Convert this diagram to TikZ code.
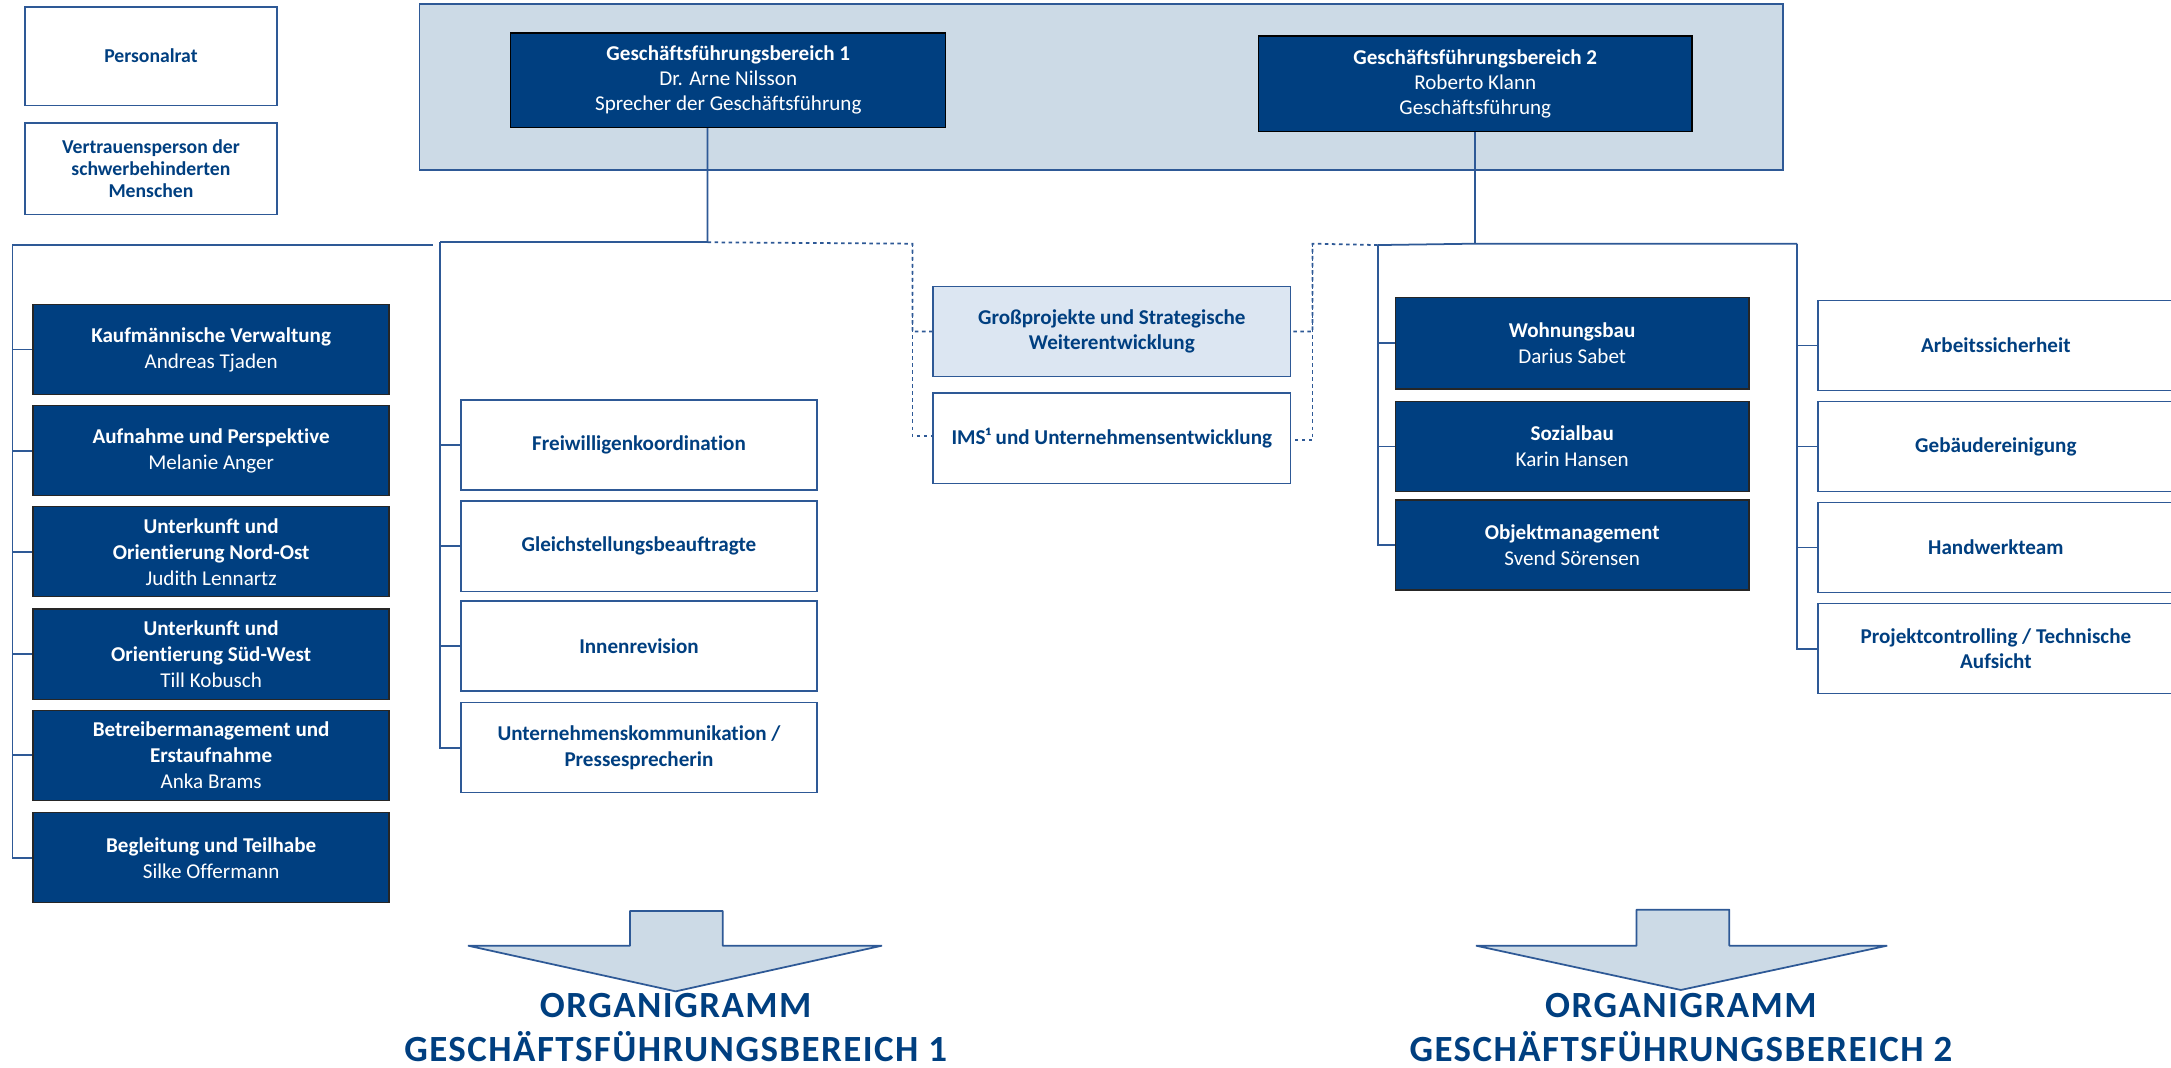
\documentclass[tikz,border=0pt]{standalone}
\usepackage{fontspec}
\setmainfont{Carlito}[Ligatures=NoCommon]
\newfontfamily\headfont[LetterSpace=4]{Carlito}
\definecolor{gfblue}{RGB}{0,63,128}
\definecolor{linecol}{RGB}{46,89,150}
\definecolor{bgblue}{RGB}{204,218,230}
\definecolor{lightbox}{RGB}{220,230,242}
\tikzset{
	darkbox/.style={draw=black!85,fill=gfblue,text=white,minimum width=3.558cm,minimum height=0.9cm,inner sep=0pt,align=center,font=\fontsize{6}{7.4}\selectfont},
	whitebox/.style={draw=linecol,fill=white,text=gfblue,minimum width=3.558cm,minimum height=0.9cm,inner sep=0pt,align=center,font=\fontsize{6}{7.2}\selectfont\bfseries},
	conn/.style={draw=linecol,line width=0.5pt},
	dotconn/.style={draw=linecol,line width=0.5pt,dash pattern=on 1pt off 1pt},
	arrowshape/.style={draw=linecol,fill=bgblue,line width=0.5pt,line join=bevel},
	headline/.style={text=gfblue,inner sep=0pt,align=center,font=\headfont\fontsize{10.5}{12.6}\selectfont\bfseries}
}
\begin{document}
\begin{tikzpicture}[x=0.013846cm,y=-0.013846cm]
		\useasboundingbox (0,0) rectangle (1568,771);
		\clip (0,0) rectangle (1568,771);
		% Gremien links oben
		\node[whitebox,minimum width=2.52cm,minimum height=0.983cm,font=\fontsize{5.6}{6.3}\selectfont\bfseries] (pr) at (109,40.5) {Personalrat};
		\node[whitebox,minimum width=2.52cm,minimum height=0.914cm,font=\fontsize{5.6}{6.3}\selectfont\bfseries] (vp) at (109,122) {Vertrauensperson der\\schwerbehinderten\\Menschen};
		% Geschaeftsfuehrung
		\draw [draw=linecol,fill=bgblue,line width=0.5pt] (303,3) rectangle (1288,123);
		\node[darkbox,draw=black,minimum width=4.348cm,minimum height=0.942cm,font=\fontsize{6}{7.1}\selectfont] (gfa) at (526,58) {\textbf{Geschäftsführungsbereich 1}\\Dr. Arne Nilsson\\Sprecher der Geschäftsführung};
		\node[darkbox,draw=black,minimum width=4.334cm,minimum height=0.955cm,font=\fontsize{6}{7.1}\selectfont] (gfb) at (1065.5,60.5) {\textbf{Geschäftsführungsbereich 2}\\Roberto Klann\\Geschäftsführung};
		% Bereich 1, Abteilungen
		\node[darkbox] (kv) at (152.5,252.5) {\textbf{Kaufmännische Verwaltung}\\Andreas Tjaden};
		\node[darkbox] (ap) at (152.5,325.5) {\textbf{Aufnahme und Perspektive}\\Melanie Anger};
		\node[darkbox] (uno) at (152.5,398.5) {\textbf{Unterkunft und}\\\textbf{Orientierung Nord-Ost}\\Judith Lennartz};
		\node[darkbox] (usw) at (152.5,472.5) {\textbf{Unterkunft und}\\\textbf{Orientierung Süd-West}\\Till Kobusch};
		\node[darkbox] (bm) at (152.5,545.5) {\textbf{Betreibermanagement und}\\\textbf{Erstaufnahme}\\Anka Brams};
		\node[darkbox] (bt) at (152.5,619.5) {\textbf{Begleitung und Teilhabe}\\Silke Offermann};
		% Bereich 1, Stabsstellen
		\node[whitebox] (fw) at (461.5,321.5) {Freiwilligenkoordination};
		\node[whitebox] (gb) at (461.5,394.5) {Gleichstellungsbeauftragte};
		\node[whitebox] (ir) at (461.5,466.5) {Innenrevision};
		\node[whitebox] (uk) at (461.5,540) {Unternehmenskommunikation /\\Pressesprecherin};
		% gemeinsame Stabsstellen
		\node[whitebox,fill=lightbox,minimum width=3.572cm] (gp) at (803,239.5) {Großprojekte und Strategische\\Weiterentwicklung};
		\node[whitebox,minimum width=3.572cm] (ims) at (803,316.5) {IMS¹ und Unternehmensentwicklung};
		% Bereich 2, Abteilungen
		\node[darkbox,minimum width=3.531cm,minimum height=0.914cm] (wb) at (1135.5,248) {\textbf{Wohnungsbau}\\Darius Sabet};
		\node[darkbox,minimum width=3.531cm] (sb) at (1135.5,322.5) {\textbf{Sozialbau}\\Karin Hansen};
		\node[darkbox,minimum width=3.531cm] (om) at (1135.5,393.5) {\textbf{Objektmanagement}\\Svend Sörensen};
		% Bereich 2, Stabsstellen
		\node[whitebox] (as) at (1441.5,249.5) {Arbeitssicherheit};
		\node[whitebox] (gr) at (1441.5,322.5) {Gebäudereinigung};
		\node[whitebox] (hw) at (1441.5,395.5) {Handwerkteam};
		\node[whitebox] (pc) at (1441.5,468.5) {Projektcontrolling / Technische\\Aufsicht};
		% Verbindungen
		\coordinate (jA) at (511,175);
		\coordinate (brA) at (9,177);
		\coordinate (brB) at (318,175);
		\coordinate (dotA) at (659,176);
		\coordinate (jB) at (1065.5,176);
		\coordinate (brC) at (995,177);
		\coordinate (brD) at (1298,176);
		\coordinate (dotB) at (948,176);
		\draw [conn] ([xshift=-0.208cm]gfa.south) -- (jA);
		\draw [conn] (jA) -- (brB);
		\draw [conn] (brA) -- ++(304,0);
		\draw [conn] (brA) |- (kv.west);
		\draw [conn] (brA) |- (ap.west);
		\draw [conn] (brA) |- (uno.west);
		\draw [conn] (brA) |- (usw.west);
		\draw [conn] (brA) |- (bm.west);
		\draw [conn] (brA) |- (bt.west);
		\draw [conn] (brB) |- (fw.west);
		\draw [conn] (brB) |- (gb.west);
		\draw [conn] (brB) |- (ir.west);
		\draw [conn] (brB) |- (uk.west);
		\draw [dotconn] (jA) -- (dotA) |- (gp.west);
		\draw [dotconn] (dotA) |- ([yshift=0.02cm]ims.west);
		\draw [conn] (gfb.south) -- (jB);
		\draw [conn] (brC) -- (jB) -- (brD);
		\draw [conn] (brC) |- (wb.west);
		\draw [conn] (brC) |- (sb.west);
		\draw [conn] (brC) |- (om.west);
		\draw [conn] (brD) |- (as.west);
		\draw [conn] (brD) |- (gr.west);
		\draw [conn] (brD) |- (hw.west);
		\draw [conn] (brD) |- (pc.west);
		\draw [dotconn] (brC) -- (dotB) |- (gp.east);
		\draw [dotconn] (dotB) |- ([yshift=-0.02cm]ims.east);
		% Pfeile und Ueberschriften
		\draw [arrowshape] (455,658) -- (522,658) -- (522,683) -- (637,683) -- (488,716) -- (338,683) -- (455,683) -- cycle;
		\draw [arrowshape] (1182,657) -- (1249,657) -- (1249,683) -- (1363,683) -- (1214,715) -- (1066,683) -- (1182,683) -- cycle;
		\node[headline] (orgA) at (488,742) {ORGANIGRAMM\\GESCHÄFTSFÜHRUNGSBEREICH 1};
		\node[headline] (orgB) at (1214,742) {ORGANIGRAMM\\GESCHÄFTSFÜHRUNGSBEREICH 2};
\end{tikzpicture}
\end{document}
